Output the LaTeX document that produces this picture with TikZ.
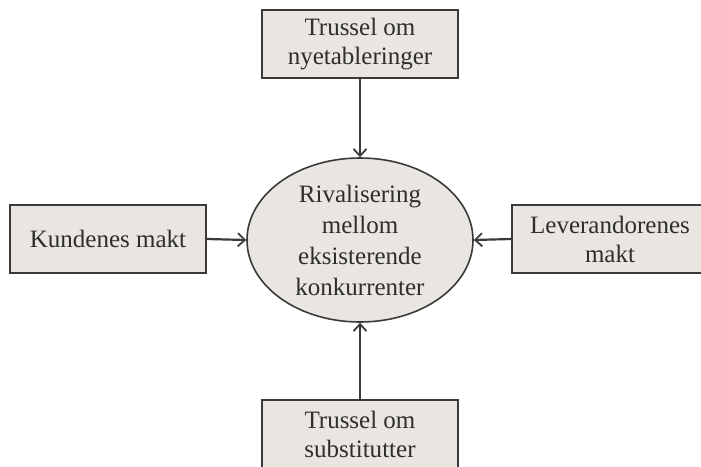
\documentclass[tikz,border=0pt]{standalone}
\usepackage{fontspec}
\setmainfont{Liberation Serif}
\usetikzlibrary{shapes.geometric,arrows.meta}
\definecolor{boxfill}{HTML}{E9E5E0}
\definecolor{boxline}{HTML}{3A3A3A}
\definecolor{txt}{HTML}{2E2E2E}
\tikzset{
  forcebox/.style={draw=boxline, fill=boxfill, line width=2.2pt, rectangle,
    minimum width=196pt, minimum height=68pt, inner sep=0pt, align=center,
    text=txt, font=\fontsize{25}{29}\selectfont},
  rivalnode/.style={draw=boxline, fill=boxfill, line width=1.6pt, ellipse,
    minimum width=226pt, minimum height=164pt, inner sep=0pt, align=center,
    text=txt, font=\fontsize{25}{31}\selectfont},
  forcearrow/.style={draw=boxline, line width=2.2pt, -{Straight Barb[length=7pt,width=13pt,line width=1.8pt]}}
}
\begin{document}
\begin{tikzpicture}[x=1pt,y=-1pt]
\useasboundingbox (0,0) rectangle (701,466);
\clip (0,0) rectangle (701,466);
\fill[white] (0,0) rectangle (701,466);
\node[rivalnode] (riv) at (360,240) {Rivalisering\\mellom\\eksisterende\\konkurrenter};
\node[forcebox] (top) at (360,44) {Trussel om\\nyetableringer};
\node[forcebox] (left) at (108,239) {Kundenes makt};
\node[forcebox] (right) at (610,239) {Leverandorenes\\makt};
\node[forcebox] (bot) at (360,434) {Trussel om\\substitutter};
\draw[forcearrow] (top.south) -- (riv.north);
\draw[forcearrow] (bot.north) -- (riv.south);
\draw[forcearrow] (left.east) -- (riv.west);
\draw[forcearrow] (right.west) -- (riv.east);
\end{tikzpicture}
\end{document}
